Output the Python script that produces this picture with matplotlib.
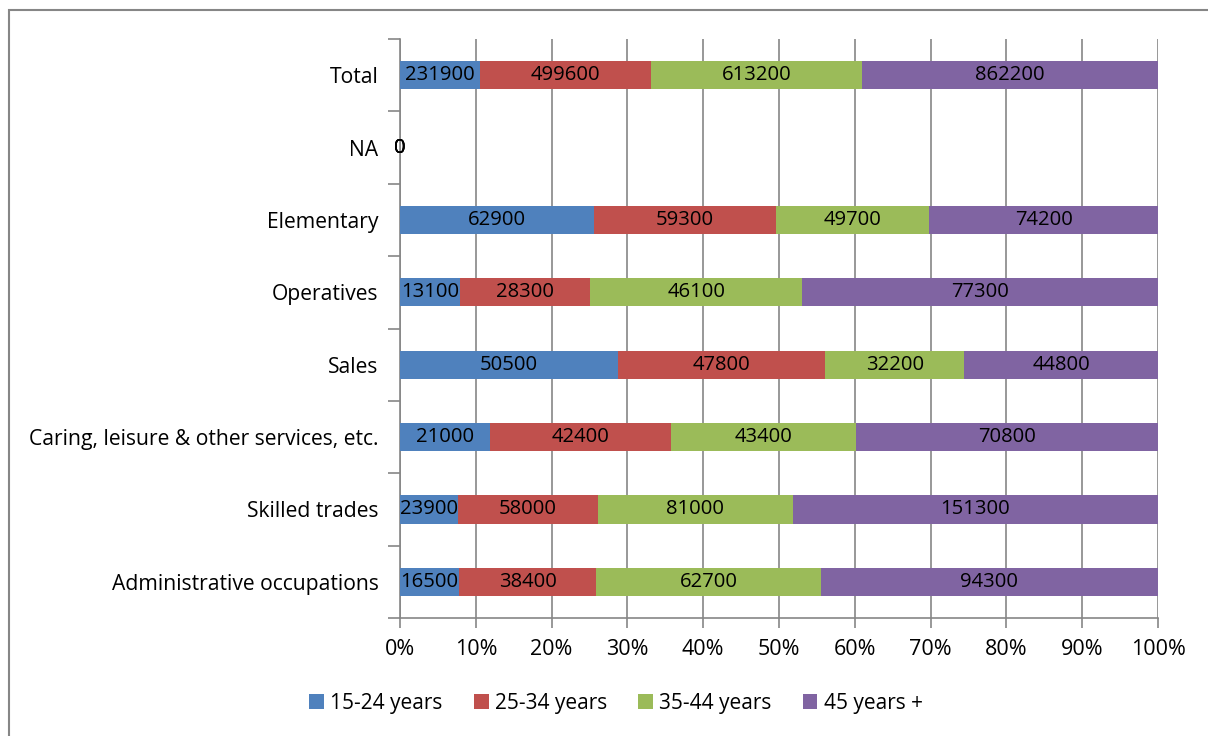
import matplotlib
matplotlib.use("Agg")
import matplotlib.pyplot as plt
from matplotlib.patches import Rectangle
import numpy as np

categories = ["Administrative occupations", "Skilled trades",
              "Caring, leisure & other services, etc.", "Sales",
              "Operatives", "Elementary", "NA", "Total"]
series_names = ["15-24 years", "25-34 years", "35-44 years", "45 years +"]
age_15_24 = [16500, 23900, 21000, 50500, 13100, 62900, 0, 231900]
age_25_34 = [38400, 58000, 42400, 47800, 28300, 59300, 0, 499600]
age_35_44 = [62700, 81000, 43400, 32200, 46100, 49700, 0, 613200]
age_45_plus = [94300, 151300, 70800, 44800, 77300, 74200, 0, 862200]
colors = ["#4F81BD", "#C0504D", "#9BBB59", "#8064A2"]

plt.rcParams['font.family'] = ['Open Sans', 'DejaVu Sans']

series = np.array([age_15_24, age_25_34, age_35_44, age_45_plus], dtype=float)
totals = series.sum(axis=0)
safe = np.where(totals == 0, 1, totals)
shares = series / safe * 100

fig = plt.figure(figsize=(12.08, 7.36), dpi=100)
ax = fig.add_axes([400 / 1208, 1 - 618 / 736, 758 / 1208, 579 / 736])

y = np.arange(len(categories))
left = np.zeros(len(categories))
for i, name in enumerate(series_names):
    ax.barh(y, shares[i], left=left, height=0.39, color=colors[i],
            label=name, zorder=3)
    for j in range(len(categories)):
        ax.text(left[j] + shares[i][j] / 2, y[j], f"{int(series[i][j])}",
                ha="center", va="center", fontsize=14.6, color="black", zorder=4)
    left += shares[i]

ax.set_xlim(0, 100)
ax.set_ylim(-0.5, len(categories) - 0.5)
ax.set_xticks(np.arange(0, 101, 10))
ax.set_xticklabels([f"{v}%" for v in range(0, 101, 10)], fontsize=15.5)
ax.set_yticks(y)
ax.set_yticklabels(categories, fontsize=15.2)
ax.set_yticks(np.arange(-0.5, len(categories), 1), minor=True)
ax.tick_params(axis="y", which="major", length=0, pad=15.5)
ax.tick_params(axis="y", which="minor", length=9, color="#868686", width=1.2)
ax.tick_params(axis="x", length=7, color="#868686", width=1.2, pad=8)
ax.grid(axis="x", color="#868686", linewidth=1.2, zorder=0)
for s in ["top", "right"]:
    ax.spines[s].set_visible(False)
for s in ["left", "bottom"]:
    ax.spines[s].set_color("#868686")
    ax.spines[s].set_linewidth(1.2)

ax.legend(loc="center", bbox_to_anchor=(616 / 1208, 1 - 703 / 736),
          bbox_transform=fig.transFigure, ncol=4, frameon=False,
          fontsize=15, handlelength=0.7, handleheight=0.7,
          handletextpad=0.3, columnspacing=1.5)

fig.patches.append(Rectangle((9 / 1208, -0.05), 1.2, 1 - 10 / 736 + 0.05,
                             transform=fig.transFigure, fill=False,
                             edgecolor="#868686", linewidth=1.5))

fig.savefig("out.png", dpi=100)
